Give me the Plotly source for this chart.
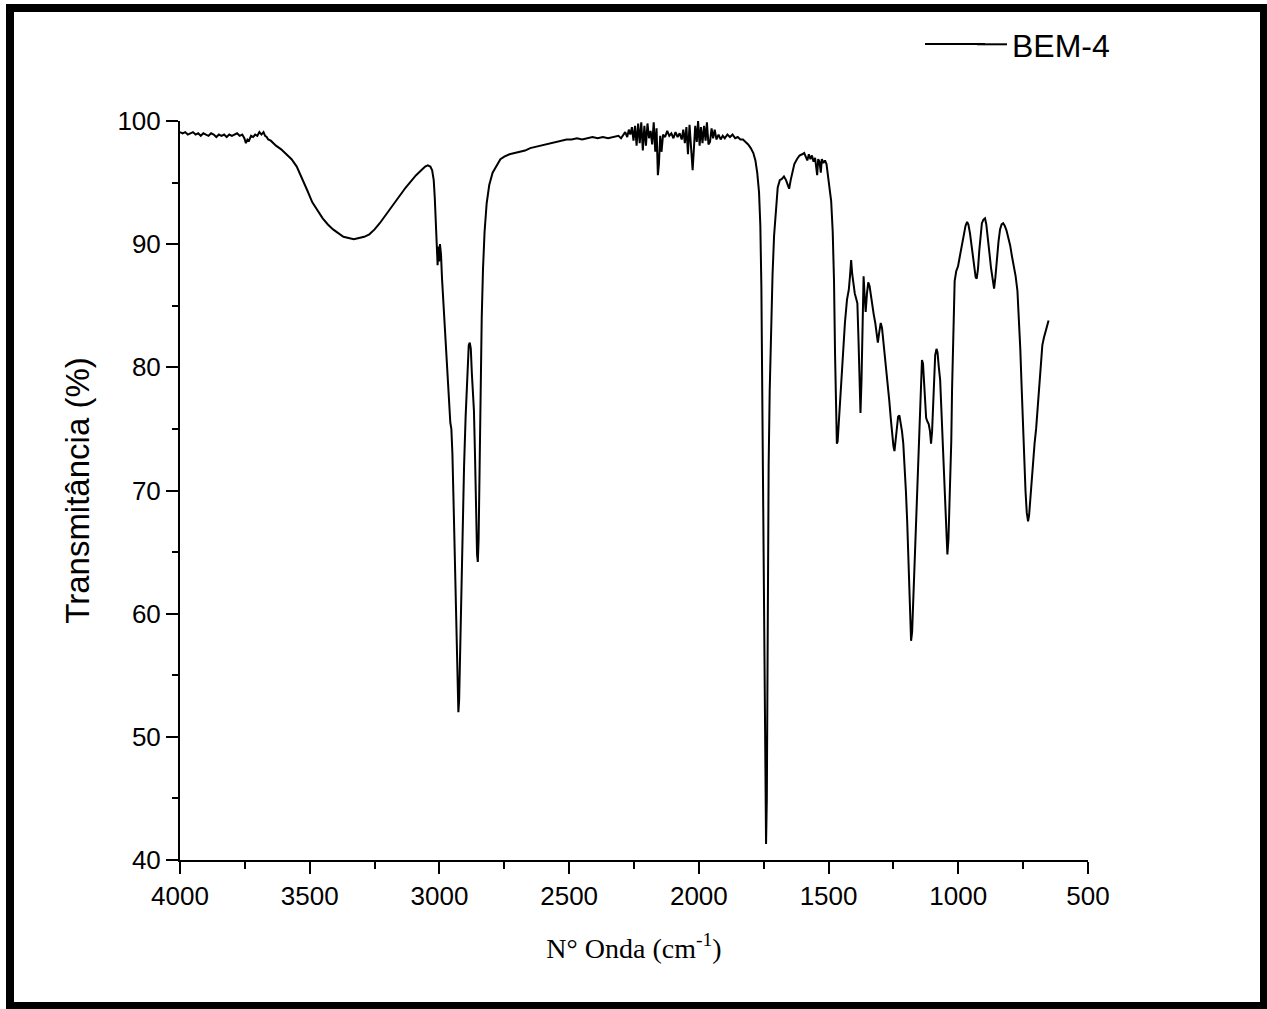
import plotly.graph_objects as go

# ---------------- data ----------------
wn_a = [4000, 3990, 3980, 3970, 3960, 3950, 3940, 3930, 3920, 3910, 3900, 3890, 3880,
        3870, 3860, 3850, 3840, 3830, 3820, 3810, 3800, 3790, 3780, 3770, 3760, 3752,
        3746, 3740, 3734, 3726, 3718, 3710, 3702, 3694, 3686, 3678, 3672, 3666, 3660]
t_a = [99.1, 99.0, 99.1, 98.9, 99.0, 99.1, 98.9, 99.0, 98.8, 99.0, 98.9, 98.8, 99.0,
       98.9, 98.7, 98.9, 98.8, 98.9, 98.7, 98.9, 98.8, 98.9, 99.0, 98.8, 98.9, 98.6,
       98.2, 98.5, 98.4, 98.8, 98.7, 98.9, 98.8, 99.1, 98.9, 99.1, 98.8, 98.7, 98.5]

wn_b = [3650, 3630, 3610, 3590, 3570, 3550, 3530, 3510, 3490, 3470, 3450, 3430, 3410,
        3390, 3370, 3350, 3330, 3310, 3290, 3270, 3250, 3230, 3210, 3190, 3170, 3150,
        3130, 3110, 3090, 3070, 3055, 3045, 3035, 3028]
t_b = [98.4, 98.0, 97.7, 97.3, 96.9, 96.3, 95.4, 94.4, 93.4, 92.7, 92.1, 91.6, 91.2,
       90.9, 90.6, 90.5, 90.4, 90.5, 90.6, 90.8, 91.2, 91.7, 92.3, 92.9, 93.5, 94.1,
       94.6, 95.1, 95.6, 96.0, 96.3, 96.4, 96.3, 96.0]

wn_c = [3022, 3018, 3014, 3010, 3007, 3004, 3001, 2998, 2994, 2990, 2985, 2978, 2970,
        2963, 2958, 2954, 2950, 2946, 2942, 2938, 2934, 2930, 2927, 2924, 2920, 2916,
        2911, 2905, 2899, 2893, 2887, 2883, 2879, 2875, 2871, 2867, 2863, 2859, 2855,
        2852, 2849, 2845, 2841, 2837, 2832, 2826, 2818, 2808, 2795, 2780, 2765, 2750,
        2730, 2710]
t_c = [95.2, 93.8, 91.8, 90.2, 88.3, 89.8, 88.6, 90.0, 89.2, 87.2, 85.3, 82.5, 79.3,
       76.8, 75.5, 75.0, 73.0, 69.5, 65.5, 61.5, 57.5, 53.5, 52.0, 53.0, 57.5, 62.0,
       67.0, 72.0, 76.0, 79.5, 81.8, 82.0, 81.5, 79.5, 77.5, 76.5, 73.0, 68.5, 64.8,
       64.2, 66.0, 72.0, 79.0, 84.0, 88.0, 91.0, 93.3, 94.8, 95.8, 96.4, 96.9, 97.1,
       97.3, 97.4]

wn_d = [2690, 2670, 2650, 2630, 2610, 2590, 2570, 2550, 2530, 2510, 2490, 2470, 2450,
        2430, 2410, 2390, 2370, 2350, 2330, 2310, 2300, 2292, 2284, 2276, 2270, 2264,
        2258, 2252, 2246, 2240, 2234, 2228, 2222, 2216, 2210, 2204, 2198, 2192, 2186,
        2180, 2174, 2168, 2163, 2158, 2154, 2149, 2144, 2138, 2130, 2122, 2114, 2106,
        2098, 2090, 2082, 2074, 2066, 2060, 2054, 2048, 2042, 2036, 2030, 2024, 2019,
        2014, 2008, 2003, 1997, 1992, 1986, 1980, 1974, 1969, 1963, 1957, 1951, 1945,
        1939, 1932, 1924, 1916, 1908, 1900, 1890, 1880, 1870, 1860, 1850, 1840, 1830,
        1820, 1810, 1800]
t_d = [97.5, 97.6, 97.8, 97.9, 98.0, 98.1, 98.2, 98.3, 98.4, 98.5, 98.5, 98.6, 98.5,
       98.6, 98.7, 98.6, 98.7, 98.6, 98.7, 98.8, 98.6, 98.9, 99.1, 98.7, 99.3, 98.9,
       99.5, 98.4, 99.6, 98.0, 99.8, 98.2, 99.9, 97.6, 99.6, 98.0, 99.8, 98.6, 99.2,
       98.1, 99.9, 97.5, 99.4, 95.6, 96.5, 98.8, 97.5, 98.9, 98.7, 99.2, 98.8, 99.0,
       98.6, 99.1, 98.7, 99.0, 98.5, 99.3, 98.2, 99.5, 97.3, 99.7, 98.0, 96.0, 97.8,
       99.6, 98.3, 100.0, 98.0, 99.5, 98.2, 99.6, 98.4, 99.9, 98.1, 98.3, 99.4, 98.6,
       99.3, 98.5, 98.9, 98.5, 98.8, 98.6, 98.9, 98.7, 98.9, 98.6, 98.7, 98.5, 98.5,
       98.3, 98.1, 97.8]

wn_e = [1790, 1782, 1775, 1768, 1763, 1759, 1755, 1751, 1747, 1744, 1741, 1738, 1735,
        1731, 1727, 1722, 1716, 1710, 1703, 1696, 1688, 1680, 1672, 1664, 1657, 1652,
        1646, 1640, 1632, 1622, 1612, 1602, 1594, 1588, 1582, 1576, 1570, 1564, 1558,
        1552, 1548, 1544, 1540, 1535, 1530, 1526, 1520, 1514, 1508, 1502, 1496, 1490,
        1484, 1479, 1475, 1471, 1468]
t_e = [97.4, 96.8, 95.8, 94.2, 91.5, 86.5, 77.0, 65.0, 55.0, 47.5, 41.3, 45.0, 60.0,
       72.0, 78.0, 83.0, 87.5, 90.7, 93.0, 94.6, 95.2, 95.3, 95.5, 95.2, 94.8, 94.5,
       95.2, 95.9, 96.5, 96.9, 97.2, 97.3, 97.4, 97.1, 96.8, 97.3, 96.9, 97.2, 96.7,
       97.0, 96.0, 95.6, 96.9, 96.7, 95.8, 96.9, 96.6, 96.8, 96.5, 95.5, 94.8, 93.5,
       91.0, 87.0, 81.0, 76.0, 73.8]

wn_f = [1465, 1460, 1455, 1449, 1443, 1437, 1429, 1422, 1417, 1413, 1409, 1404, 1399,
        1394, 1389, 1385, 1381, 1377, 1373, 1369, 1365, 1361, 1357, 1352, 1347, 1342,
        1337, 1332, 1326, 1320, 1315, 1310, 1305, 1299, 1294, 1289, 1284, 1278, 1272,
        1266, 1260, 1255, 1250, 1246, 1242, 1237, 1232, 1227, 1222, 1217, 1212, 1207,
        1202, 1197, 1193, 1189, 1185, 1182, 1178, 1174, 1170, 1166, 1161, 1156, 1151,
        1147, 1143, 1140, 1136, 1132, 1128, 1124, 1119, 1114, 1109, 1105, 1101, 1097,
        1093, 1089, 1084, 1080, 1075, 1070, 1066, 1062, 1058, 1054, 1050, 1046, 1042,
        1038, 1034, 1030, 1027, 1024, 1021, 1018, 1014, 1008, 1001, 995, 990, 984, 978,
        972, 966, 961, 955, 950, 944, 938, 933, 929, 924, 919, 914, 909, 903, 897, 892,
        886, 880, 874, 868, 862, 857, 851, 845, 839, 833, 827, 821, 814, 807, 800, 793,
        786, 779, 772, 766, 761, 756, 751, 746, 741, 736, 731, 727, 722, 717, 712, 706,
        700, 694, 688, 682, 676, 670, 664, 658, 652]
t_f = [74.0, 75.8, 77.2, 79.5, 82.0, 83.6, 85.5, 86.3, 87.5, 88.7, 87.6, 86.5, 86.0,
       85.6, 85.2, 82.5, 78.5, 76.3, 79.0, 85.0, 87.4, 85.8, 84.5, 86.0, 86.9, 86.6,
       85.8, 85.0, 84.3, 83.6, 82.6, 82.0, 82.8, 83.6, 83.2, 82.2, 81.2, 80.0, 78.8,
       77.3, 75.8, 74.6, 73.6, 73.2, 74.0, 75.2, 76.0, 76.1, 75.6, 74.8, 73.8, 72.2,
       70.0, 67.5, 64.5, 61.5, 59.2, 57.8, 58.5, 60.8, 63.0, 65.5, 69.0, 72.0, 74.5,
       77.0, 79.0, 80.6, 80.3, 79.0, 77.0, 75.9, 75.6, 75.4, 74.8, 73.8, 74.8, 77.0,
       79.5, 81.0, 81.5, 81.2, 80.0, 79.0, 77.0, 75.0, 72.8, 70.5, 68.5, 66.5, 64.8,
       66.0, 68.5, 71.0, 74.0, 78.2, 81.5, 84.5, 87.0, 87.8, 88.2, 88.9, 89.5, 90.3, 90.9,
       91.5, 91.8, 91.6, 90.9, 90.0, 89.0, 88.0, 87.3, 87.2, 88.0, 89.5, 90.8, 91.7, 92.0, 92.1, 91.6,
       90.6, 89.3, 88.1, 87.0, 86.4, 87.3, 89.0, 90.2, 91.2, 91.6, 91.7, 91.5, 91.1, 90.6, 89.9, 89.0,
       88.2, 87.4, 86.2, 84.0, 81.5, 78.5, 75.5, 72.5, 70.0, 68.2, 67.5, 68.0, 69.6, 71.2, 72.5, 73.8,
       75.0, 76.7, 78.4, 80.5, 81.8, 82.4, 82.8, 83.4, 83.8]

wavenumber = wn_a + wn_b + wn_c + wn_d + wn_e + wn_f
transmittance = t_a + t_b + t_c + t_d + t_e + t_f

series_name = "BEM-4"
x_ticks = [4000, 3500, 3000, 2500, 2000, 1500, 1000, 500]
y_ticks = [40, 50, 60, 70, 80, 90, 100]

# ---------------- figure ----------------
W, H = 1267, 1009
ML, MR, MT, MB = 180, 179, 121, 149
PW, PH = W - ML - MR, H - MT - MB

def px_x(p):
    return (p - ML) / PW

def px_y(p):
    return (H - MB - p) / PH

fig = go.Figure()
fig.add_trace(go.Scatter(
    x=wavenumber, y=transmittance, mode="lines", name=series_name,
    line=dict(color="black", width=2),
))

sans = "Arial, Liberation Sans, sans-serif"
serif = "Times New Roman, Liberation Serif, serif"

axis_common = dict(
    showline=True, linecolor="black", linewidth=2,
    ticks="outside", tickcolor="black", tickwidth=2, ticklen=12,
    showgrid=False, zeroline=False, mirror=False,
    tickfont=dict(family=sans, size=26, color="black"),
    automargin=False,
)

fig.update_xaxes(
    range=[4000, 500], tickvals=x_ticks, ticktext=[str(v) for v in x_ticks],
    minor=dict(ticks="outside", ticklen=7, tickwidth=2, tickcolor="black", dtick=250, tick0=0),
    title=dict(text="N° Onda (cm<sup>-1</sup>)", font=dict(family=serif, size=28, color="black"),
               standoff=28),
    **axis_common,
)
fig.update_yaxes(
    range=[40, 100], tickvals=y_ticks, ticktext=[str(v) for v in y_ticks],
    minor=dict(ticks="outside", ticklen=6, tickwidth=2, tickcolor="black", dtick=5, tick0=0),
    title=dict(text="Transmitância (%)", font=dict(family=sans, size=33, color="black"),
               standoff=18),
    **axis_common,
)

# outer frame of the picture
fig.add_shape(type="rect", xref="paper", yref="paper",
              x0=px_x(10), x1=px_x(1264), y0=px_y(1006), y1=px_y(8),
              line=dict(color="black", width=8), fillcolor="rgba(0,0,0,0)", layer="above")

# longer legend sample line (Origin-style), continuing the legend symbol to the left
fig.add_shape(type="line", xref="paper", yref="paper",
              x0=px_x(925), x1=px_x(985), y0=px_y(44), y1=px_y(44),
              line=dict(color="black", width=2), layer="above")

fig.update_layout(
    width=W, height=H,
    margin=dict(l=ML, r=MR, t=MT, b=MB, pad=0),
    paper_bgcolor="white", plot_bgcolor="white",
    showlegend=True,
    legend=dict(x=px_x(972), y=px_y(17), xanchor="left", yanchor="top",
                bgcolor="rgba(0,0,0,0)", borderwidth=0,
                font=dict(family=sans, size=32, color="black")),
    font=dict(family=sans, color="black"),
)

fig.write_html("out.html")
